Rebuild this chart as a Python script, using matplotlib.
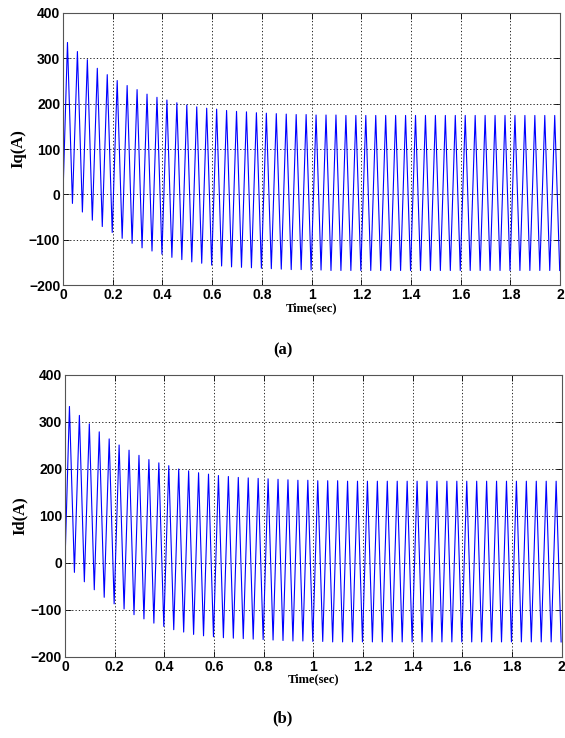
import numpy as np
import matplotlib.pyplot as plt

# peak / trough values of each cycle (25 cycles per 0.2 s over 2 s)
iq_peaks = [335, 315, 297, 278, 264, 251, 240, 231, 221, 214,
            208, 202, 197, 193, 190, 188, 185, 183, 182, 180,
            179, 178, 177, 176, 176, 175, 175, 175, 174, 174,
            174, 174, 174, 174, 174, 174, 174, 174, 174, 174,
            174, 174, 174, 174, 174, 174, 174, 174, 174, 174]
iq_troughs = [-20, -39, -57, -71, -84, -97, -108, -118, -125, -132,
              -139, -144, -149, -152, -156, -158, -160, -161, -162, -163,
              -164, -165, -166, -166, -167, -167, -168, -168, -168, -168,
              -168, -168, -168, -168, -168, -168, -168, -168, -168, -168,
              -168, -168, -168, -168, -168, -168, -168, -168, -168, -168]
id_peaks = [333, 314, 296, 279, 264, 251, 240, 229, 220, 213,
            207, 200, 196, 192, 189, 186, 184, 182, 181, 180,
            179, 178, 177, 176, 176, 175, 175, 175, 174, 174,
            174, 174, 174, 174, 174, 174, 174, 174, 174, 174,
            174, 174, 174, 174, 174, 174, 174, 174, 174, 174]
id_troughs = [-20, -40, -57, -73, -87, -98, -110, -119, -128, -135,
              -142, -147, -152, -155, -157, -159, -160, -161, -162, -163,
              -164, -165, -166, -166, -167, -167, -168, -168, -168, -168,
              -168, -168, -168, -168, -168, -168, -168, -168, -168, -168,
              -168, -168, -168, -168, -168, -168, -168, -168, -168, -168]
first_peak_t = 0.018
period = 0.04

x_ticks = [0, 0.2, 0.4, 0.6, 0.8, 1, 1.2, 1.4, 1.6, 1.8, 2]
x_labels = ['0', '0.2', '0.4', '0.6', '0.8', '1', '1.2', '1.4', '1.6', '1.8', '2']
y_ticks = [-200, -100, 0, 100, 200, 300, 400]


def wave(peaks, troughs):
    # zig-zag through the extrema, starting from 0 at t=0
    t = [0.0]
    v = [0.0]
    for k, (p, q) in enumerate(zip(peaks, troughs)):
        t += [first_peak_t + k * period, first_peak_t + k * period + period / 2]
        v += [p, q]
    return np.array(t), np.array(v)


fig = plt.figure(figsize=(5.65, 7.38), dpi=100)
ax1 = fig.add_axes([0.1115, 0.6138, 0.8800, 0.3686])
ax2 = fig.add_axes([0.1150, 0.1098, 0.8790, 0.3821])

for ax, pk, tr, ylab, cap, capy in [(ax1, iq_peaks, iq_troughs, 'Iq(A)', '(a)', 0.525),
                                     (ax2, id_peaks, id_troughs, 'Id(A)', '(b)', 0.027)]:
    t, v = wave(pk, tr)
    ax.plot(t, v, color='#0000ff', lw=0.8)
    ax.set_xlim(0, 2)
    ax.set_ylim(-200, 400)
    ax.set_xticks(x_ticks)
    ax.set_xticklabels(x_labels)
    ax.set_yticks(y_ticks)
    ax.grid(True, color='black', linestyle=(0, (1.5, 2.5)), linewidth=0.6)
    ax.tick_params(direction='in', top=True, right=True, length=4, width=0.6, pad=2)
    for lab in ax.get_xticklabels() + ax.get_yticklabels():
        lab.set_fontweight('bold')
        lab.set_fontsize(10)
        lab.set_family('Liberation Sans')
    for s in ax.spines.values():
        s.set_color('#555555')
        s.set_linewidth(0.8)
    ax.set_xlabel('Time(sec)', family='Liberation Serif', fontweight='bold', fontsize=9, labelpad=0)
    ax.set_ylabel(ylab, family='Liberation Serif', fontweight='bold', fontsize=12, labelpad=2)
    fig.text(0.5, capy, cap, ha='center', va='center', family='Liberation Serif',
             fontweight='bold', fontsize=12)

fig.savefig('out.png', dpi=100)
